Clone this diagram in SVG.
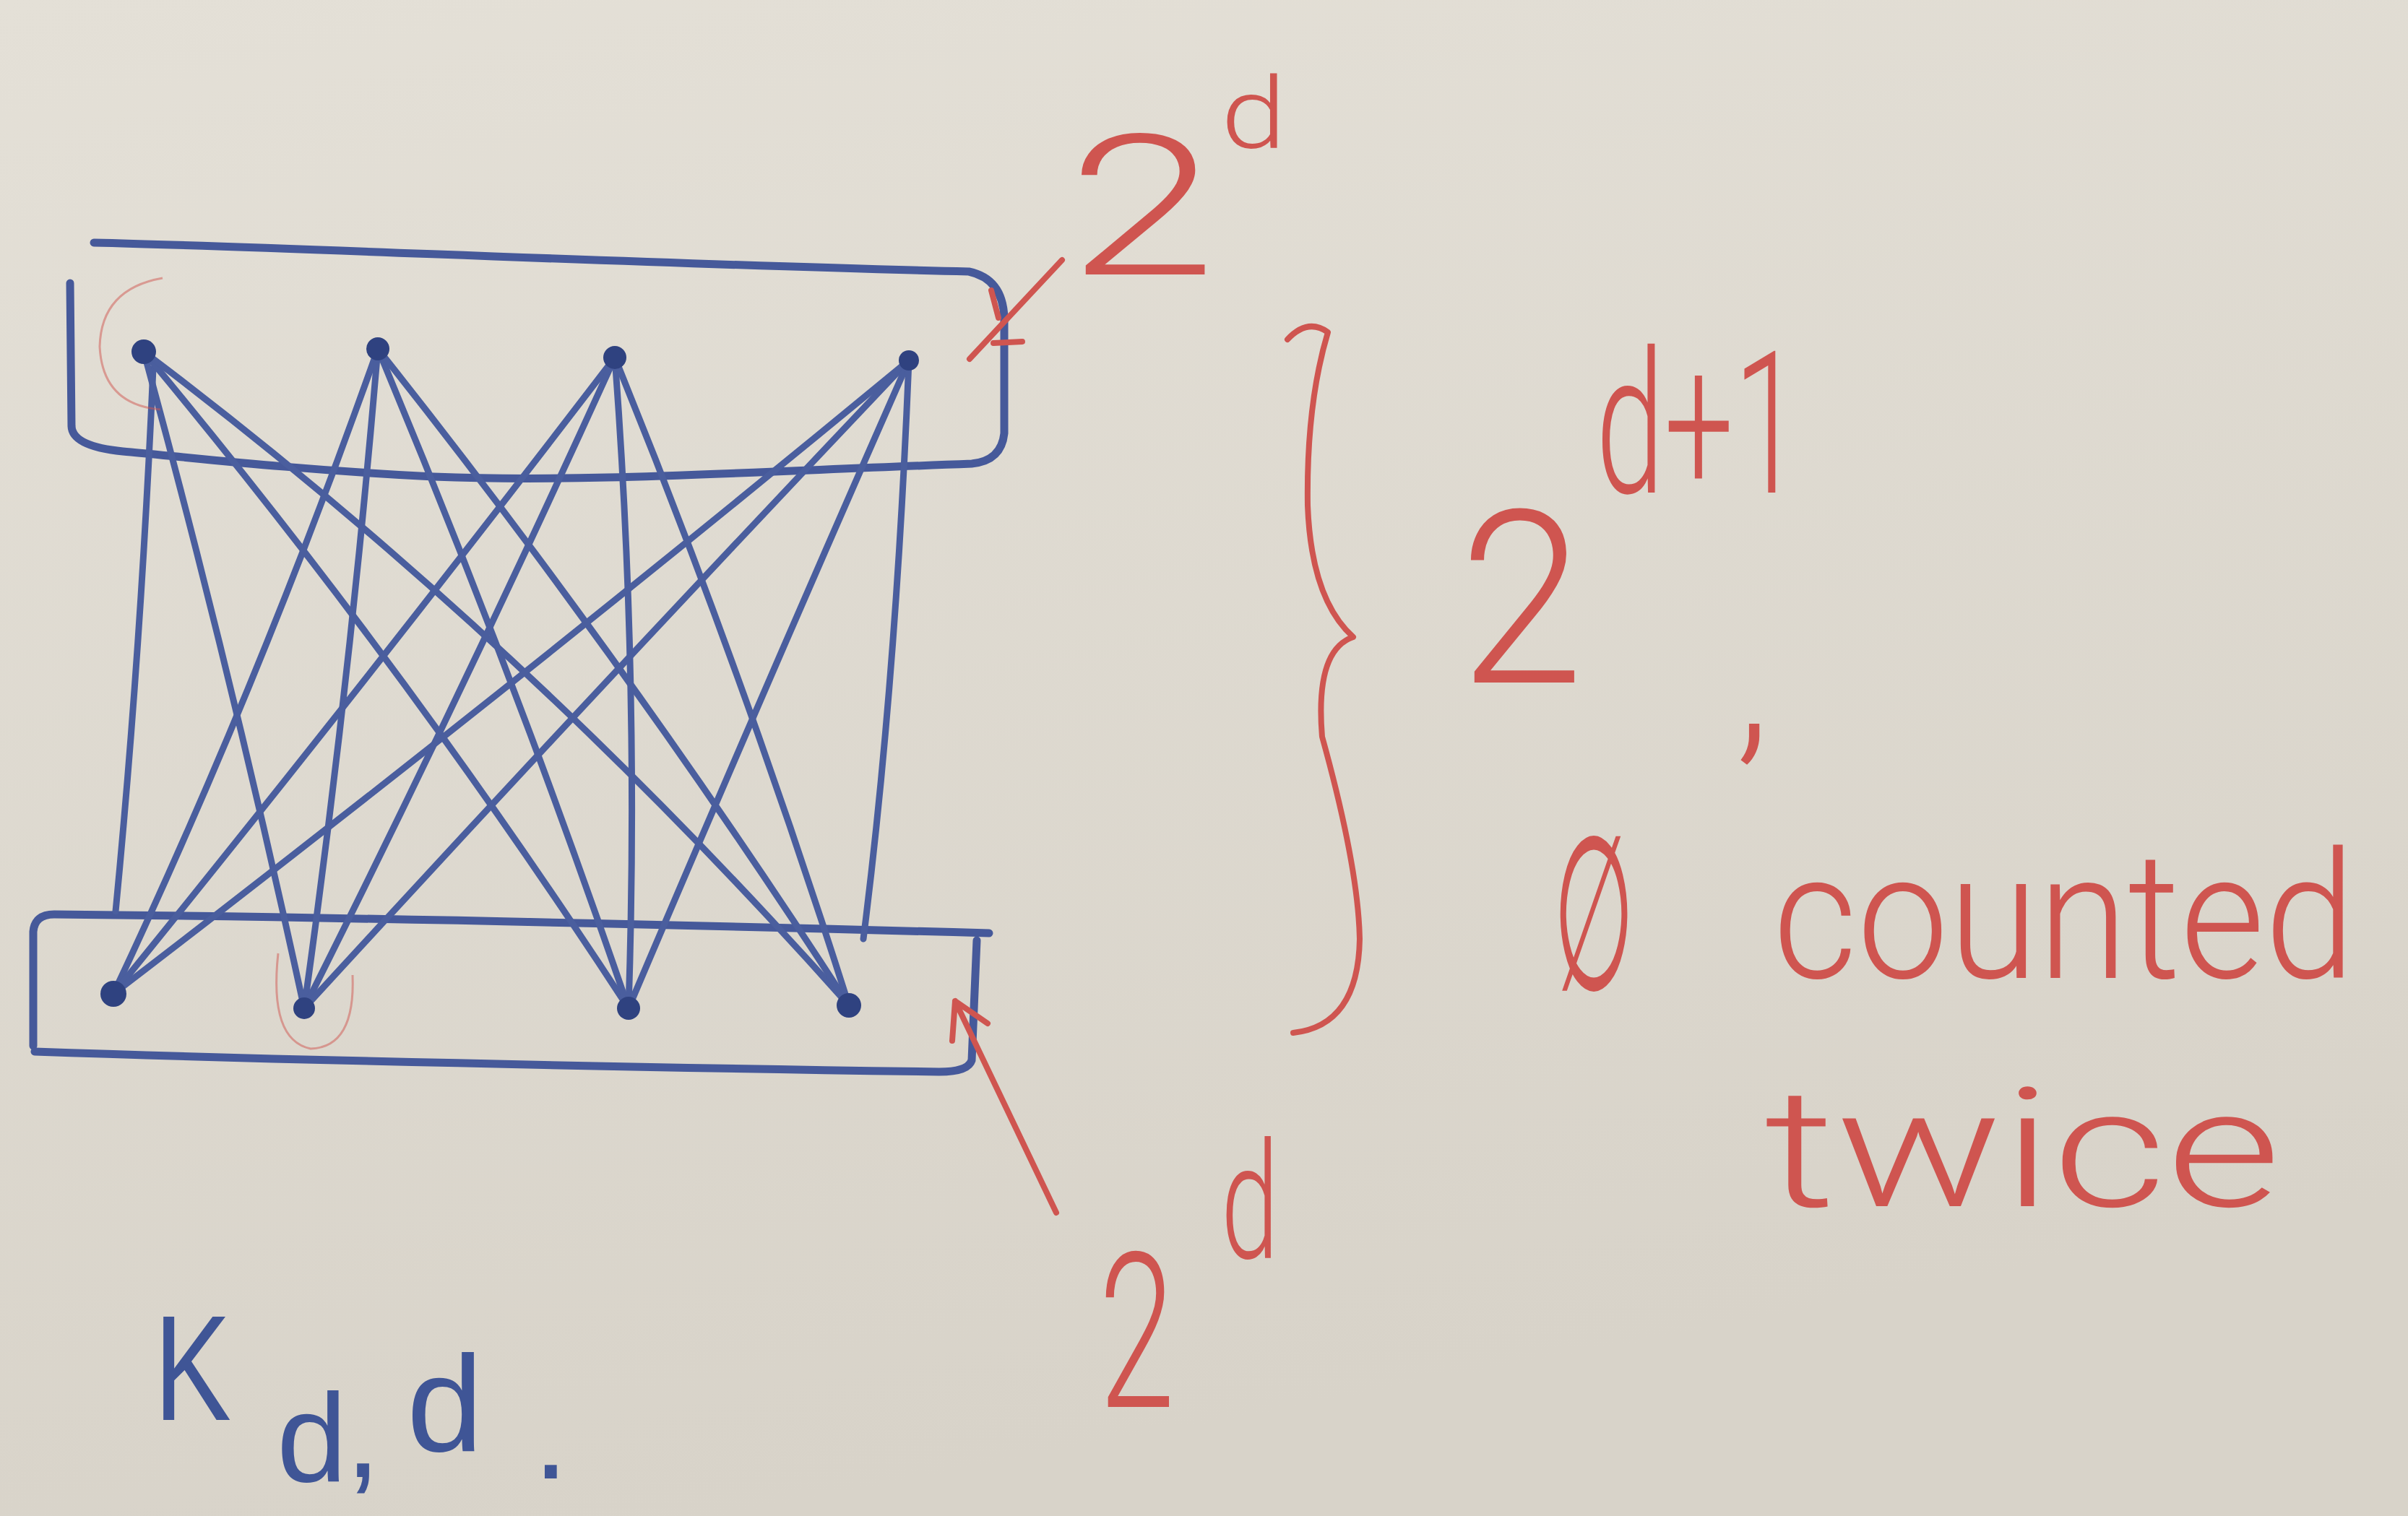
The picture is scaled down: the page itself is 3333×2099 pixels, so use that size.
<svg xmlns="http://www.w3.org/2000/svg" width="3333" height="2099" viewBox="0 0 3333 2099">
<defs>
<linearGradient id="paper" x1="0" y1="0" x2="0.3" y2="1">
<stop offset="0" stop-color="#e4e0d7"/>
<stop offset="1" stop-color="#d8d3c9"/>
</linearGradient>
<style>
.box{fill:none;stroke:#46599a;stroke-width:11;stroke-linecap:round;stroke-linejoin:round}
.edge{fill:none;stroke:#4a5e9e;stroke-width:9;stroke-linecap:round}
.dot{fill:#2f4280}
.red{fill:none;stroke:#cf5550;stroke-width:8;stroke-linecap:round;stroke-linejoin:round}
.faint{fill:none;stroke:#cf5550;stroke-width:3;opacity:0.5}
.rt{fill:#cf5550;font-family:Roboto,"Liberation Sans","DejaVu Sans",sans-serif;font-weight:300}
.bt{fill:#3f5596;font-family:"Liberation Sans","DejaVu Sans",sans-serif}
</style>
</defs>
<rect width="3333" height="2099" fill="url(#paper)"/>

<g id="top-part">
<path class="box" d="M130,336 C400,342 900,366 1341,376 Q1388,386 1390,440 L1390,600 Q1386,638 1345,642 C1000,655 800,668 600,660 C400,650 250,632 170,625 Q100,618 99,590 L97,392"/>
</g>
<g id="bottom-part">
<path class="box" d="M46,1448 L46,1290 Q48,1266 75,1266 C500,1270 1000,1282 1369,1292"/>
<path class="box" d="M1352,1302 L1345,1468 Q1340,1484 1300,1484 C900,1478 400,1468 48,1456"/>
</g>

<g id="connectors">
<path class="edge" d="M212,510 Q195,900 160,1262"/>
<path class="edge" d="M199,487 Q320,930 421,1396"/>
<path class="edge" d="M199,487 Q560,920 870,1396"/>
<path class="edge" d="M199,487 Q720,880 1175,1392"/>
<path class="edge" d="M523,483 Q360,945 157,1376"/>
<path class="edge" d="M523,483 Q485,940 421,1396"/>
<path class="edge" d="M523,483 Q710,930 870,1396"/>
<path class="edge" d="M523,483 Q870,920 1175,1392"/>
<path class="edge" d="M851,495 Q495,960 157,1376"/>
<path class="edge" d="M851,495 Q640,960 421,1396"/>
<path class="edge" d="M851,495 Q885,945 870,1396"/>
<path class="edge" d="M851,495 Q1030,935 1175,1392"/>
<path class="edge" d="M1258,499 Q700,960 157,1376"/>
<path class="edge" d="M1258,499 Q830,950 421,1396"/>
<path class="edge" d="M1258,499 Q1055,960 870,1396"/>
<path class="edge" d="M1258,499 Q1240,945 1195,1300"/>
<path class="red" d="M1470,360 L1342,497 M1372,402 L1382,440 M1375,475 L1415,473"/>
<path class="red" d="M1462,1679 L1322,1386 M1318,1441 L1322,1386 L1367,1417"/>
</g>

<g id="nodes-top">
<g id="a1"><circle class="dot" cx="199" cy="487" r="17"/><path class="faint" d="M225,385 Q140,400 138,480 Q142,560 222,567"/></g>
<g id="a2"><circle class="dot" cx="523" cy="483" r="16"/></g>
<g id="a3"><circle class="dot" cx="851" cy="495" r="16"/></g>
<g id="a4"><circle class="dot" cx="1258" cy="499" r="14"/></g>
</g>
<g id="nodes-bottom">
<g id="b1"><circle class="dot" cx="157" cy="1376" r="18"/></g>
<g id="b2"><circle class="dot" cx="421" cy="1396" r="15"/><path class="faint" d="M385,1320 Q372,1440 430,1452 Q492,1450 488,1350"/></g>
<g id="b3"><circle class="dot" cx="870" cy="1396" r="16"/></g>
<g id="b4"><circle class="dot" cx="1175" cy="1392" r="17"/></g>
</g>

<g id="brace">
<path class="red" d="M1782,470 Q1810,440 1838,460 Q1808,560 1810,700 Q1815,830 1873,882 Q1820,900 1830,1020 Q1880,1200 1882,1300 Q1880,1420 1790,1430"/>
</g>

<g id="labels">
<text class="rt" x="1478" y="380" font-size="272" textLength="205" lengthAdjust="spacingAndGlyphs">2</text>
<text class="rt" x="1690" y="205" font-size="137" textLength="90" lengthAdjust="spacingAndGlyphs">d</text>
<text class="rt" x="2020" y="945" font-size="335" textLength="172" lengthAdjust="spacingAndGlyphs">2</text>
<text class="rt" x="2209" y="682" font-size="275" textLength="285" lengthAdjust="spacingAndGlyphs">d+1</text>
<text class="rt" x="2402" y="1025" font-size="250">,</text>
<text class="rt" x="2150" y="1370" font-size="300" textLength="112" lengthAdjust="spacingAndGlyphs" font-family="DejaVu Sans, sans-serif">∅</text>
<text class="rt" x="2454" y="1354" font-size="245" textLength="806" lengthAdjust="spacingAndGlyphs">counted</text>
<text class="rt" x="2442" y="1670" font-size="230" textLength="715" lengthAdjust="spacingAndGlyphs">twice</text>
<text class="rt" x="1521" y="1948" font-size="300" textLength="105" lengthAdjust="spacingAndGlyphs">2</text>
<text class="rt" x="1690" y="1742" font-size="225" textLength="80" lengthAdjust="spacingAndGlyphs">d</text>
<text class="bt" font-size="208"><tspan x="213" y="1966" textLength="107" lengthAdjust="spacingAndGlyphs">K</tspan><tspan x="383" y="2051" font-size="175">d</tspan><tspan x="478" y="2045" font-size="175">,</tspan><tspan x="563" y="2009" font-size="190">d</tspan><tspan x="738" y="2047" font-size="175">.</tspan></text>
</g>
</svg>
